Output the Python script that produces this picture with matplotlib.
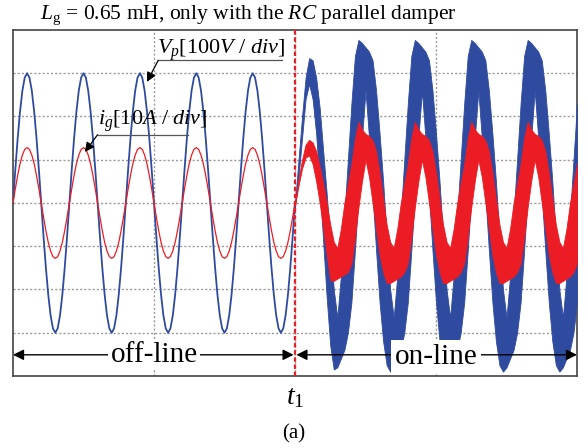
import matplotlib.pyplot as plt
import numpy as np

plt.rcParams["font.family"] = ["Liberation Serif", "DejaVu Serif"]
plt.rcParams["mathtext.fontset"] = "custom"
plt.rcParams["mathtext.rm"] = "Liberation Serif"
plt.rcParams["mathtext.it"] = "Liberation Serif:italic"

# scope screen: 4 time divisions, 8 amplitude divisions
t_switch = 2.0   # t1, damper goes on-line
t_end = 4.0

# off-line: one clean cycle, 24 samples, in divisions
vp_cycle = [0.0, 0.78, 1.5, 2.12, 2.6, 2.9, 3.0, 2.9, 2.6, 2.12, 1.5, 0.78,
            0.0, -0.78, -1.5, -2.12, -2.6, -2.9, -3.0, -2.9, -2.6, -2.12, -1.5, -0.78]
ig_cycle = [0.0, 0.33, 0.64, 0.91, 1.11, 1.24, 1.28, 1.24, 1.11, 0.91, 0.64, 0.33,
            0.0, -0.33, -0.64, -0.91, -1.11, -1.24, -1.28, -1.24, -1.11, -0.91, -0.64, -0.33]
n_off = 5

# on-line: top / bottom edge of the noisy band, 16 samples per cycle
vp_hi_first = [0.0, 1.0, 2.0, 2.9, 3.35, 3.3, 2.9, 2.2, 1.2, 0.2, -0.9, -2.0, -2.65, -1.7, -0.3, 1.0]
vp_lo_first = [-0.1, 0.6, 1.5, 2.4, 2.75, 2.4, 1.6, 0.4, -0.9, -2.2, -3.3, -3.85, -3.8, -3.6, -3.4, -3.0]
vp_hi_cycle = [2.3, 3.4, 3.77, 3.7, 3.6, 3.5, 3.3, 2.6, 1.6, 0.5, -0.8, -2.0, -2.65, -1.7, -0.3, 1.0]
vp_lo_cycle = [-2.3, -1.1, 0.2, 1.5, 2.6, 1.5, 0.2, -1.1, -2.3, -3.2, -3.75, -3.9, -3.8, -3.6, -3.4, -3.0]

ig_hi_first = [0.0, 0.55, 1.0, 1.35, 1.46, 1.4, 1.2, 0.85, 0.45, 0.0, -0.5, -0.9, -1.04, -0.6, 0.0, 0.45]
ig_lo_first = [-0.05, 0.4, 0.8, 1.05, 1.1, 0.9, 0.5, 0.0, -0.6, -1.2, -1.78, -1.8, -1.75, -1.7, -1.65, -1.6]
ig_hi_cycle = [0.9, 1.5, 1.88, 1.7, 1.6, 1.55, 1.45, 1.2, 0.7, 0.1, -0.5, -0.9, -1.04, -0.6, 0.0, 0.45]
ig_lo_cycle = [-1.4, -0.8, -0.1, 0.5, 1.0, 0.6, 0.0, -0.6, -1.2, -1.6, -1.85, -1.85, -1.8, -1.75, -1.7, -1.6]
n_on = 5

blue = "#2f4b9f"
red = "#ec1c24"


def closed(cycle, n):
    return np.r_[np.tile(cycle, n), cycle[0]]


def band(first, cycle, n):
    return np.r_[first, np.tile(cycle, n - 1), cycle[0]]


vp_off = closed(vp_cycle, n_off)
ig_off = closed(ig_cycle, n_off)
t_off = np.linspace(0, t_switch, len(vp_off))

vp_hi = band(vp_hi_first, vp_hi_cycle, n_on)
vp_lo = band(vp_lo_first, vp_lo_cycle, n_on)
ig_hi = band(ig_hi_first, ig_hi_cycle, n_on)
ig_lo = band(ig_lo_first, ig_lo_cycle, n_on)
t_on = np.linspace(t_switch, t_end, len(vp_hi))

fig = plt.figure(figsize=(5.88, 4.48), dpi=100)
ax = fig.add_axes([13 / 588, 72 / 448, 564 / 588, 346 / 448])

ax.plot(t_off, vp_off, color=blue, lw=1.3, zorder=3)
ax.plot(t_off, ig_off, color=red, lw=0.9, zorder=4)
ax.fill_between(t_on, vp_lo, vp_hi, color=blue, lw=0.6, zorder=3)
ax.fill_between(t_on, ig_lo, ig_hi, color=red, lw=0.6, zorder=4)

ax.axvline(t_switch, color=red, lw=1.6, ls=(0, (2, 1.2)), zorder=6)

ax.set_xlim(0, t_end)
ax.set_ylim(-4, 4)
ax.set_xticks([1, 2, 3])
ax.set_yticks([-3, -2, -1, 0, 1, 2, 3])
ax.tick_params(length=0, labelbottom=False, labelleft=False)
ax.grid(True, color="#9a9a9a", ls=(0, (1.5, 1.5)), lw=1.0)
ax.set_axisbelow(True)
for side in ax.spines:
    ax.spines[side].set_color("#444444")
    ax.spines[side].set_linewidth(1.2)

# signal labels with leader and arrow
ax.text(1.02, 3.45, r"$V_p\mathrm{[100}V\mathrm{\ /\ }div\mathrm{]}$", fontsize=16,
        ha="left", va="baseline", zorder=7)
ax.plot([1.03, 1.91], [3.3, 3.3], color="#555555", lw=0.9, zorder=7)
ax.annotate("", xy=(0.95, 2.8), xytext=(1.03, 3.3),
            arrowprops=dict(arrowstyle="-|>", color="black", lw=0.9,
                            mutation_scale=14, shrinkA=0, shrinkB=0), zorder=7)

ax.text(0.6, 1.8, r"$i_g\mathrm{[10}A\mathrm{\ /\ }div\mathrm{]}$", fontsize=16,
        ha="left", va="baseline", zorder=7)
ax.plot([0.6, 1.24], [1.58, 1.58], color="#555555", lw=0.9, zorder=7)
ax.annotate("", xy=(0.51, 1.18), xytext=(0.6, 1.58),
            arrowprops=dict(arrowstyle="-|>", color="black", lw=0.9,
                            mutation_scale=14, shrinkA=0, shrinkB=0), zorder=7)

# off-line / on-line spans
y_span = -3.51
for x0, x1 in [(0, t_switch - 0.01), (t_switch + 0.01, t_end)]:
    ax.annotate("", xy=(x0, y_span), xytext=(x1, y_span),
                arrowprops=dict(arrowstyle="<|-|>", color="black", lw=1.0,
                                mutation_scale=16, shrinkA=0, shrinkB=0), zorder=8)
ax.text(1.0, y_span, "off-line", fontsize=21, ha="center", va="center", zorder=9,
        bbox=dict(fc="white", ec="none", pad=1.5))
ax.text(3.0, y_span - 0.05, "on-line", fontsize=21, ha="center", va="center", zorder=9,
        bbox=dict(fc="white", ec="none", pad=3))

fig.text(295 / 588, 1 - 398 / 448, r"$t_1$", fontsize=20, ha="center", va="center")
fig.text(294 / 588, 1 - 434 / 448, "(a)", fontsize=15, ha="center", va="center")
fig.text(40 / 588, 1 - 19 / 448,
         r"$L_\mathrm{g}$ = 0.65 mH, only with the $RC$ parallel damper",
         fontsize=15.5, ha="left", va="baseline")

fig.savefig("out.png", dpi=100)
